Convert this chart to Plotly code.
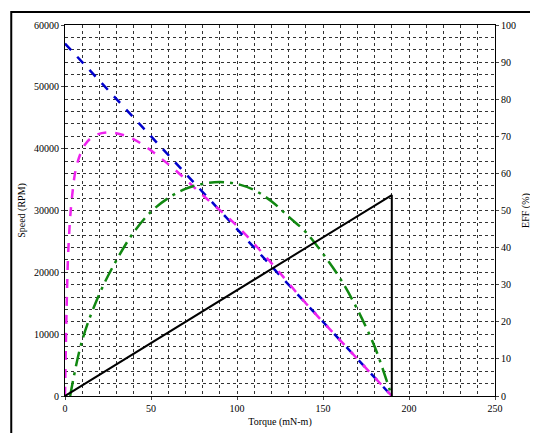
import plotly.graph_objects as go

speed_x = [0, 190]
speed_y = [57000, 0]
mag_x = [0, 1, 2, 4, 7, 12, 18, 27, 40, 60, 80, 100, 120, 140, 160, 180, 190]
mag_y = [0, 15000, 24000, 32000, 37500, 40800, 42200, 42600, 41500, 37500, 32500, 27500, 21500, 15000, 9000, 3000, 0]
grn_x = [3, 10, 20, 30, 40, 50, 60, 70, 80, 90, 100, 110, 120, 130, 140, 150, 160, 170, 180, 187, 190]
grn_y = [0, 9000, 16500, 22000, 26500, 29800, 32000, 33500, 34300, 34600, 34300, 33300, 31500, 29000, 26500, 23000, 19000, 14000, 8000, 2500, 0]
blk_x = [0, 190, 190]
blk_y = [0, 32500, 0]

fig = go.Figure()
fig.add_trace(go.Scatter(x=speed_x, y=speed_y, mode="lines", line=dict(color="#0000cc", width=2.5, dash="dash")))
fig.add_trace(go.Scatter(x=mag_x, y=mag_y, mode="lines", line=dict(color="#ee22ee", width=2.5, dash="dash", shape="spline")))
fig.add_trace(go.Scatter(x=grn_x, y=grn_y, mode="lines", line=dict(color="#118811", width=2.5, dash="longdashdot", shape="spline")))
fig.add_trace(go.Scatter(x=blk_x, y=blk_y, mode="lines", line=dict(color="black", width=2)))
fig.add_trace(go.Scatter(x=[0], y=[0], yaxis="y2", mode="markers", marker=dict(opacity=0), hoverinfo="skip"))

font = dict(family="Liberation Serif", size=10, color="black")
grid = dict(showgrid=True, gridcolor="#333", griddash="dot", gridwidth=1)
fig.update_layout(
    width=538, height=433, showlegend=False, plot_bgcolor="white", paper_bgcolor="white",
    margin=dict(l=57, r=51, t=17, b=45), font=font,
    xaxis=dict(range=[0, 250], tick0=0, dtick=50, showline=True, linecolor="black", mirror=True,
               ticks="outside", ticklen=3, zeroline=False, automargin=False, **grid,
               minor=dict(dtick=10, **grid),
               title=dict(text="Torque (mN-m)", font=font, standoff=4)),
    yaxis=dict(range=[0, 60000], dtick=10000, showline=True, linecolor="black", mirror=True,
               ticks="outside", ticklen=3, zeroline=False, automargin=False, tickformat="d", **grid,
               minor=dict(dtick=2000, **grid),
               title=dict(text="Speed (RPM)", font=font, standoff=6)),
    yaxis2=dict(range=[0, 100], dtick=10, overlaying="y", side="right", showgrid=False, ticks="outside", ticklen=3,
                zeroline=False, automargin=False, title=dict(text="EFF (%)", font=font, standoff=6)),
    shapes=[dict(type="rect", xref="paper", yref="paper", x0=-0.125, x1=1.108, y0=-0.108, y1=1.035,
                 line=dict(color="black", width=2))],
)
fig.write_html("out.html")
